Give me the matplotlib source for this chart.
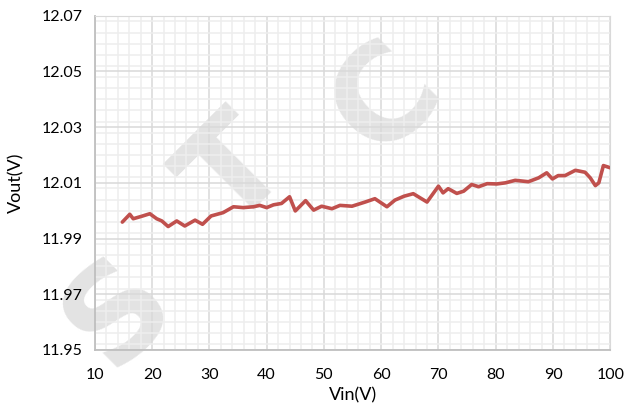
import matplotlib.pyplot as plt
from matplotlib.ticker import MultipleLocator

# readings taken from the curve
vin = [14.8, 16.1, 16.7, 18.2, 19.6, 20.8, 21.7, 22.8, 24.3, 25.7, 27.5, 28.8, 30.3,
       32.4, 34.2, 35.9, 37.7, 38.8, 40.0, 41.2, 42.6, 44.0, 45.0, 46.8, 48.2,
       49.6, 51.4, 52.8, 54.9, 57.2, 58.9, 61.0, 62.4, 64.0, 65.6, 68.0, 70.0,
       70.8, 71.7, 73.2, 74.4, 75.8, 77.0, 78.5, 80.2, 81.7, 83.4, 85.7, 87.5,
       88.9, 89.9, 90.9, 92.1, 93.9, 95.6, 96.5, 97.4, 98.0, 98.8, 100.0]
vout = [11.9959, 11.9987, 11.9971, 11.9980, 11.9989, 11.9971, 11.9963, 11.9943,
        11.9963, 11.9945, 11.9966, 11.9951, 11.9981,
        11.9993, 12.0014, 12.0011, 12.0014, 12.0019, 12.0011, 12.0021, 12.0026,
        12.0050, 11.9999, 12.0036, 12.0002, 12.0016, 12.0007, 12.0019, 12.0016,
        12.0031, 12.0043, 12.0014, 12.0038, 12.0052, 12.0061, 12.0031, 12.0088,
        12.0064, 12.0079, 12.0062, 12.0070, 12.0094, 12.0086, 12.0097, 12.0096,
        12.0100, 12.0109, 12.0104, 12.0118, 12.0136, 12.0114, 12.0126, 12.0126,
        12.0145, 12.0138, 12.0118, 12.0090, 12.0100, 12.0162, 12.0154]

xticks = [10, 20, 30, 40, 50, 60, 70, 80, 90, 100]
yticks = [11.95, 11.97, 11.99, 12.01, 12.03, 12.05, 12.07]

plt.rcParams['font.family'] = ['Lato', 'DejaVu Sans']

fig = plt.figure(figsize=(6.24, 4.16), dpi=100)
ax = fig.add_axes([0.152, 0.159, 0.826, 0.803])
ax.set_facecolor('none')

# watermark letters, kept faint and behind everything
wm = dict(color='#e3e3e3', fontsize=95, fontweight='bold', rotation=45,
          ha='center', va='center', zorder=-5, family='DejaVu Sans')
fig.text(0.19, 0.25, 'S', **wm)
fig.text(0.38, 0.58, 'T', **wm)
fig.text(0.62, 0.76, 'C', **wm)

ax.plot(vin, vout, color='#C0504D', linewidth=2.6, solid_joinstyle='round',
        solid_capstyle='round', zorder=3)

ax.set_xlim(10, 100)
ax.set_ylim(11.95, 12.07)
ax.set_xticks(xticks)
ax.set_yticks(yticks)
ax.set_yticklabels([f'{v:.2f}' for v in yticks])
ax.xaxis.set_minor_locator(MultipleLocator(2))
ax.yaxis.set_minor_locator(MultipleLocator(0.004))
ax.grid(which='major', color='#d9d9d9', linewidth=1.1)
ax.grid(which='minor', color='#eeeeee', linewidth=1.1)
ax.set_axisbelow(True)
ax.tick_params(which='both', length=0, labelsize=11.5, colors='#000000', pad=9)
ax.tick_params(axis='x', pad=13)

for s in ['top', 'right']:
    ax.spines[s].set_color('#d9d9d9')
for s in ['left', 'bottom']:
    ax.spines[s].set_color('#bfbfbf')
    ax.spines[s].set_linewidth(1.3)

ax.set_xlabel('Vin(V)', fontsize=13, labelpad=4)
ax.set_ylabel('Vout(V)', fontsize=13, labelpad=12)

fig.savefig('out.png', dpi=100)
